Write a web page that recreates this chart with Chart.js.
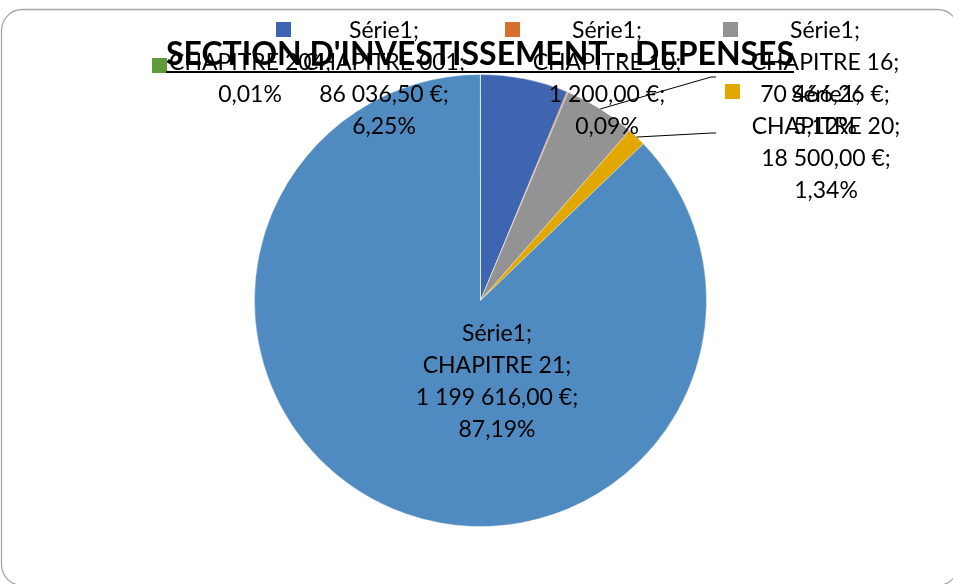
<!DOCTYPE html>
<html>
<head>
<meta charset="utf-8">
<script src="https://cdn.jsdelivr.net/npm/chart.js@4/dist/chart.umd.min.js"></script>
<style>
html,body{margin:0;padding:0;background:#fff;}
#wrap{width:953px;height:584px;position:relative;}
</style>
</head>
<body>
<div id="wrap"><canvas id="c" width="953" height="584"></canvas></div>
<script>
// ---- data ----
const seriesName = 'Série1';
const categories = ['CHAPITRE 001', 'CHAPITRE 10', 'CHAPITRE 16', 'CHAPITRE 20', 'CHAPITRE 21', 'CHAPITRE 204'];
const values = [86036.50, 1200.00, 70466.26, 18500.00, 1199616.00, 100];
const titleText = "SECTION D'INVESTISSEMENT - DEPENSES";

// ---- styles / layout ----
const colors = ['#3F65B0', '#D5702D', '#939393', '#E2A800', '#4F8AC0', '#5F9B3B'];
const labelAnchors = [[384, 38], [607, 38], [825, 38], [826, 102], [497, 341], [250, 70]];
const labelFull = [true, true, true, true, true, false];
const legendBoxes = [[276, 22], [505, 22], [723, 22], [725, 84], null, [152, 58]];
const leaderEnds = [null, null, [[711, 77], [716, 77]], [[712, 133], [716, 133]], null, null];
const FONT = 'Lato, "Open Sans", sans-serif';

const total = values.reduce((a, b) => a + b, 0);
function fmtMoney(v) {
  const p = v.toFixed(2).split('.');
  return p[0].replace(/\B(?=(\d{3})+(?!\d))/g, ' ') + ',' + p[1] + ' €';
}
function fmtPct(v) { return (v / total * 100).toFixed(2).replace('.', ',') + '%'; }
function labelLines(i) {
  if (labelFull[i]) return [seriesName + ';', categories[i] + ';', fmtMoney(values[i]) + ';', fmtPct(values[i])];
  return [categories[i] + ';', fmtPct(values[i])];
}

const frame = {
  id: 'frame',
  beforeDraw(chart) {
    const ctx = chart.ctx;
    ctx.save();
    ctx.fillStyle = '#fff';
    ctx.fillRect(0, 0, chart.width, chart.height);
    ctx.strokeStyle = '#A6A6A6';
    ctx.lineWidth = 1.3;
    ctx.beginPath();
    ctx.roundRect(1.5, 9.5, 957, 576, 21);
    ctx.stroke();
    ctx.restore();
  }
};

const overlay = {
  id: 'overlay',
  afterDraw(chart) {
    const ctx = chart.ctx;
    const arcs = chart.getDatasetMeta(0).data;
    ctx.save();
    // leader lines
    ctx.strokeStyle = '#000';
    ctx.lineWidth = 1;
    arcs.forEach((a, i) => {
      const le = leaderEnds[i];
      if (!le) return;
      const mid = (a.startAngle + a.endAngle) / 2;
      const sx = a.x + Math.cos(mid) * a.outerRadius;
      const sy = a.y + Math.sin(mid) * a.outerRadius;
      ctx.beginPath();
      ctx.moveTo(sx, sy);
      le.forEach(p => ctx.lineTo(p[0], p[1]));
      ctx.stroke();
    });
    // data labels
    ctx.fillStyle = '#000';
    ctx.font = '23px ' + FONT;
    ctx.textAlign = 'center';
    ctx.textBaseline = 'alphabetic';
    categories.forEach((c, i) => {
      const [x, y] = labelAnchors[i];
      labelLines(i).forEach((t, k) => ctx.fillText(t, x, y + k * 32));
    });
    // legend markers
    legendBoxes.forEach((b, i) => {
      if (!b) return;
      ctx.fillStyle = colors[i];
      ctx.fillRect(b[0], b[1], 15, 15);
    });
    // title
    ctx.fillStyle = '#000';
    ctx.font = 'bold 32px ' + FONT;
    ctx.textAlign = 'center';
    ctx.fillText(titleText, 480, 65, 628);
    const w = Math.min(ctx.measureText(titleText).width, 628);
    ctx.fillRect(480 - w / 2, 71, w, 2);
    ctx.restore();
  }
};

new Chart(document.getElementById('c'), {
  type: 'pie',
  data: {
    labels: categories,
    datasets: [{
      label: seriesName,
      data: values,
      backgroundColor: colors,
      borderColor: 'rgba(255,255,255,0.35)',
      borderWidth: 1
    }]
  },
  options: {
    responsive: false,
    animation: false,
    layout: { padding: { top: 74, bottom: 57, left: 200, right: 192 } },
    plugins: { legend: { display: false }, title: { display: false }, tooltip: { enabled: false } }
  },
  plugins: [frame, overlay]
});
</script>
</body>
</html>
